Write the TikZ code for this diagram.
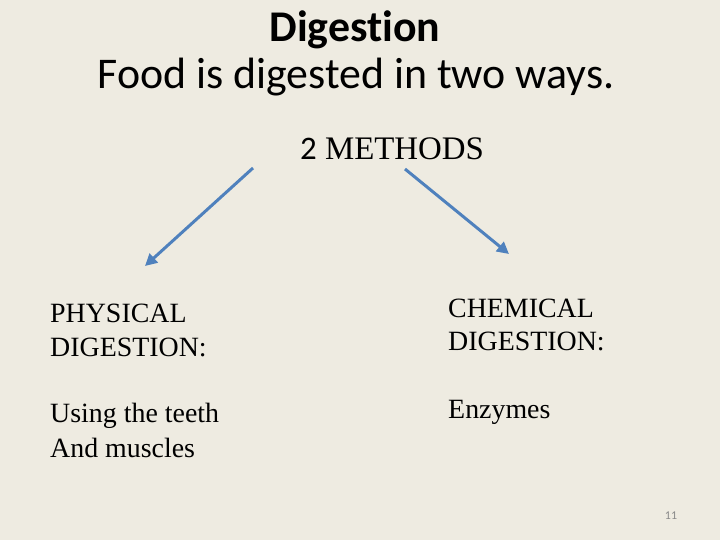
\documentclass[tikz,border=0pt]{standalone}
\usepackage{fontspec}
\setmainfont{Liberation Serif}
\newfontfamily\slidefont[Ligatures=NoCommon]{Carlito}
\usetikzlibrary{arrows.meta}
\definecolor{slidebg}{HTML}{EEEBE1}
\definecolor{arrowblue}{HTML}{4F81BD}
\definecolor{pagegray}{HTML}{8A8A8A}
\tikzset{
  heading/.style={anchor=base, inner sep=0pt, font=\slidefont\fontsize{44}{52}\selectfont},
  bodyline/.style={anchor=base west, inner sep=0pt, font=\fontsize{28}{34}\selectfont},
  methodarrow/.style={arrowblue, line width=3pt, -{Triangle[length=12pt,width=12pt]}},
}
\begin{document}
\begin{tikzpicture}[x=1bp, y=-1bp]
	\fill[slidebg] (0,0) rectangle (720,540);
	\useasboundingbox (0,0) rectangle (720,540);

	% title
	\node[heading, font=\slidefont\bfseries\fontsize{44}{52}\selectfont] (title) at (355,42) {Digestion};
	\node[heading] (subtitle) at (356,89) {Food is digested in two ways.};
	\node[anchor=base west, inner sep=0pt, font=\fontsize{33}{38}\selectfont] (methods) at (300,160) {{\slidefont 2} METHODS};

	% arrows
	\coordinate (lstart) at (253,168);
	\coordinate (lend) at (145,266);
	\coordinate (rstart) at (405,169);
	\coordinate (rend) at (509,254);
	\draw[methodarrow] (lstart) -- (lend);
	\draw[methodarrow] (rstart) -- (rend);

	% left column
	\node[bodyline] (phys1) at (50,322) {PHYSICAL};
	\node[bodyline] (phys2) at (50,356) {DIGESTION:};
	\node[bodyline] (teeth) at (50,422) {Using the teeth};
	\node[bodyline] (muscles) at (50,457) {And muscles};

	% right column
	\node[bodyline] (chem1) at (448,317) {CHEMICAL};
	\node[bodyline] (chem2) at (448,350) {DIGESTION:};
	\node[bodyline] (enzymes) at (448,418) {Enzymes};

	\node[anchor=base, inner sep=0pt, pagegray, font=\slidefont\fontsize{12}{14}\selectfont] (pagenum) at (671,519) {11};
\end{tikzpicture}
\end{document}
